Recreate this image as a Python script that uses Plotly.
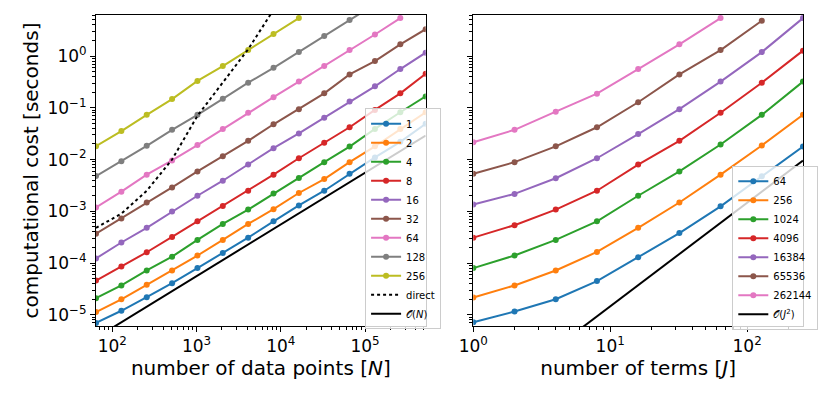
import plotly.graph_objects as go

# number of data points (left) and number of terms (right)
n_points = [64, 128, 256, 512, 1024, 2048, 4096, 8192, 16384, 32768,
            65536, 131072, 262144, 524288]
n_terms = [1, 2, 4, 8, 16, 32, 64, 128, 256]

# left panel: cost vs N for each J
cost_j1 = [7.0e-6, 1.2e-5, 2.2e-5, 4.1e-5, 8.0e-5, 1.56e-4, 3.1e-4, 6.4e-4,
           1.3e-3, 2.5e-3, 5.3e-3, 1.1e-2, 2.2e-2, 4.9e-2]
cost_j2 = [1.13e-5, 2.0e-5, 3.8e-5, 7.2e-5, 1.4e-4, 2.8e-4, 5.7e-4, 1.1e-3,
           2.26e-3, 4.2e-3, 8.9e-3, 1.8e-2, 3.9e-2, 8.2e-2]
cost_j4 = [2.1e-5, 3.7e-5, 7.2e-5, 1.33e-4, 2.8e-4, 5.7e-4, 1.08e-3, 2.2e-3,
           4.4e-3, 8.9e-3, 1.78e-2, 3.9e-2, 8.2e-2, 0.166]
cost_j8 = [4.6e-5, 8.6e-5, 1.62e-4, 3.2e-4, 6.4e-4, 1.27e-3, 2.5e-3, 5.1e-3,
           1.06e-2, 2.1e-2, 4.2e-2, 9.1e-2, 0.19, 0.455]
cost_j16 = [1.23e-4, 2.5e-4, 4.8e-4, 9.9e-4, 2.0e-3, 3.9e-3, 8.0e-3, 1.66e-2,
            3.2e-2, 6.4e-2, 0.132, 0.26, 0.56, 1.16]
cost_j32 = [3.7e-4, 7.3e-4, 1.48e-3, 2.9e-3, 5.9e-3, 1.16e-2, 2.3e-2, 4.8e-2,
            9.4e-2, 0.19, 0.44, 0.80, 1.68, 3.3]
cost_j64 = [1.19e-3, 2.4e-3, 5.1e-3, 9.6e-3, 1.9e-2, 3.9e-2, 8.0e-2, 0.16,
            0.32, 0.64, 1.3, 2.6, 5.4]
cost_j128 = [4.8e-3, 9.3e-3, 1.84e-2, 3.75e-2, 7.3e-2, 0.149, 0.305, 0.59,
             1.19, 2.44, 4.97, 10.0]
cost_j256 = [1.81e-2, 3.55e-2, 7.3e-2, 0.147, 0.33, 0.64, 1.3, 2.67, 5.4]
cost_direct = [4.8e-4, 9.0e-4, 2.5e-3, 1.0e-2, 7.0e-2, 0.3, 1.35, 7.8]
ref_n_x = [64, 524288]
ref_n_y = [3.6e-6, 2.9e-2]

# right panel: cost vs J for each N
cost_n64 = [7.2e-6, 1.16e-5, 2.0e-5, 4.5e-5, 1.3e-4, 3.8e-4, 1.25e-3, 4.75e-3, 1.78e-2]
cost_n256 = [2.16e-5, 3.7e-5, 7.2e-5, 1.64e-4, 4.8e-4, 1.48e-3, 5.1e-3, 1.87e-2, 7.3e-2]
cost_n1024 = [8.0e-5, 1.4e-4, 2.8e-4, 6.4e-4, 2.0e-3, 5.9e-3, 1.95e-2, 7.3e-2, 0.32]
cost_n4096 = [3.1e-4, 5.4e-4, 1.08e-3, 2.5e-3, 8.0e-3, 2.3e-2, 8.0e-2, 0.305, 1.27]
cost_n16384 = [1.35e-3, 2.17e-3, 4.35e-3, 1.06e-2, 3.1e-2, 9.4e-2, 0.32, 1.19, 5.4]
cost_n65536 = [5.3e-3, 8.9e-3, 1.8e-2, 4.2e-2, 0.128, 0.44, 1.3, 4.8]
cost_n262144 = [2.16e-2, 3.75e-2, 8.4e-2, 0.187, 0.56, 1.68, 5.4]
ref_j_x = [1, 256]
ref_j_y = [1.46e-7, 9.6e-3]

left_labels = ["1", "2", "4", "8", "16", "32", "64", "128", "256"]
left_series = [cost_j1, cost_j2, cost_j4, cost_j8, cost_j16, cost_j32,
               cost_j64, cost_j128, cost_j256]
right_labels = ["64", "256", "1024", "4096", "16384", "65536", "262144"]
right_series = [cost_n64, cost_n256, cost_n1024, cost_n4096, cost_n16384,
                cost_n65536, cost_n262144]

y_ticks = [1e-5, 1e-4, 1e-3, 1e-2, 1e-1, 1e0]
y_ticktext = ["10<sup>−5</sup>", "10<sup>−4</sup>", "10<sup>−3</sup>",
              "10<sup>−2</sup>", "10<sup>−1</sup>", "10<sup>0</sup>"]
x1_ticks = [1e2, 1e3, 1e4, 1e5]
x1_ticktext = ["10<sup>2</sup>", "10<sup>3</sup>", "10<sup>4</sup>", "10<sup>5</sup>"]
x2_ticks = [1e0, 1e1, 1e2]
x2_ticktext = ["10<sup>0</sup>", "10<sup>1</sup>", "10<sup>2</sup>"]

colors = ["#1f77b4", "#ff7f0e", "#2ca02c", "#d62728", "#9467bd",
          "#8c564b", "#e377c2", "#7f7f7f", "#bcbd22"]

fig = go.Figure()

for i, (lab, ys) in enumerate(zip(left_labels, left_series)):
    fig.add_trace(go.Scatter(x=n_points[:len(ys)], y=ys, name=lab,
                             mode="lines+markers",
                             line=dict(color=colors[i], width=2),
                             marker=dict(size=6, color=colors[i]),
                             xaxis="x", yaxis="y", legend="legend"))
fig.add_trace(go.Scatter(x=n_points[:len(cost_direct)], y=cost_direct,
                         name="direct", mode="lines",
                         line=dict(color="black", width=2, dash="dot"),
                         xaxis="x", yaxis="y", legend="legend"))
fig.add_trace(go.Scatter(x=ref_n_x, y=ref_n_y, name="𝒪(<i>N</i>)",
                         mode="lines", line=dict(color="black", width=2),
                         xaxis="x", yaxis="y", legend="legend"))

for i, (lab, ys) in enumerate(zip(right_labels, right_series)):
    fig.add_trace(go.Scatter(x=n_terms[:len(ys)], y=ys, name=lab,
                             mode="lines+markers",
                             line=dict(color=colors[i], width=2),
                             marker=dict(size=6, color=colors[i]),
                             xaxis="x2", yaxis="y2", legend="legend2"))
fig.add_trace(go.Scatter(x=ref_j_x, y=ref_j_y, name="𝒪(<i>J</i><sup>2</sup>)",
                         mode="lines", line=dict(color="black", width=2),
                         xaxis="x2", yaxis="y2", legend="legend2"))

minor_vals = [k * 10.0 ** e for e in range(-7, 7) for k in range(2, 10)]

axis_common = dict(type="log", showgrid=False, zeroline=False, automargin=False,
                   showline=True, linecolor="black", linewidth=1, mirror=True,
                   ticks="outside", ticklen=5, tickwidth=1, tickcolor="black",
                   tickfont=dict(size=17),
                   minor=dict(ticks="outside", ticklen=3, tickwidth=1,
                              tickcolor="black", tickvals=minor_vals))

legend_common = dict(bgcolor="rgba(255,255,255,0.8)", bordercolor="#cccccc",
                     borderwidth=1, font=dict(size=10), tracegroupgap=0,
                     itemwidth=30, xanchor="left", yanchor="top")

fig.update_layout(
    width=830, height=397,
    paper_bgcolor="white", plot_bgcolor="white",
    font=dict(family="DejaVu Sans", color="black"),
    margin=dict(l=96, r=22, t=15, b=71),
    xaxis=dict(axis_common, domain=[0, 0.4663], range=[1.80618, 5.71960],
               tickvals=x1_ticks, ticktext=x1_ticktext,
               title=dict(text="number of data points [<i>N</i>]",
                          font=dict(size=20), standoff=2)),
    xaxis2=dict(axis_common, domain=[0.5337, 1], range=[0, 2.40824],
                anchor="y2", tickvals=x2_ticks, ticktext=x2_ticktext,
                title=dict(text="number of terms [<i>J</i>]",
                           font=dict(size=20), standoff=2)),
    yaxis=dict(axis_common, range=[-5.215, 0.792],
               tickvals=y_ticks, ticktext=y_ticktext,
               title=dict(text="computational cost [seconds]",
                          font=dict(size=20), standoff=3)),
    yaxis2=dict(axis_common, range=[-5.215, 0.792], anchor="x2",
                tickvals=y_ticks, showticklabels=False),
    legend=dict(legend_common, x=0.3806, y=0.70),
    legend2=dict(legend_common, x=0.900, y=0.515),
)

fig.write_html("out.html", config={"displayModeBar": False},
               post_script="document.body.style.margin = '0px';")
